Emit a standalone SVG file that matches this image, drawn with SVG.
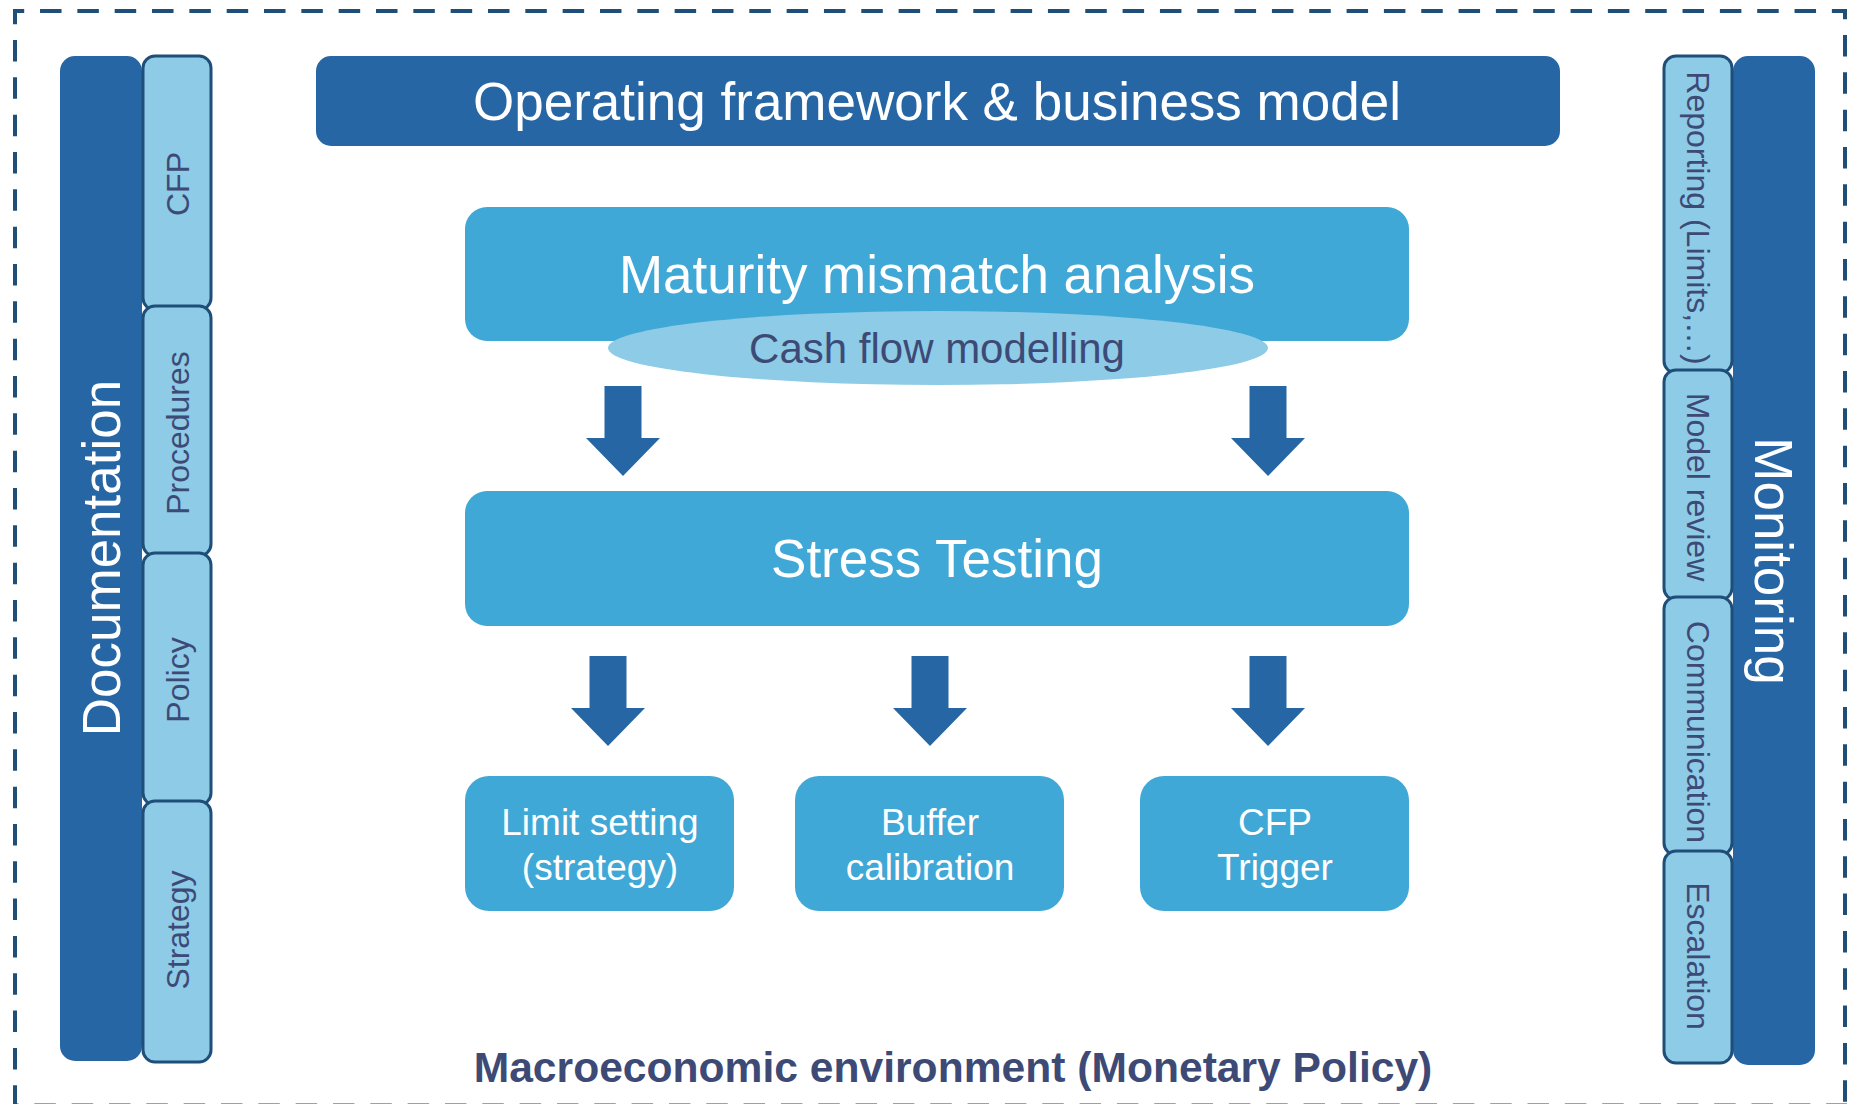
<svg xmlns="http://www.w3.org/2000/svg" width="1857" height="1104" viewBox="0 0 1857 1104">
  <defs>
    <style>
      .dark { fill: #2766A5; }
      .mid { fill: #3FA8D6; }
      .tab { fill: #8DCBE6; stroke: #1F4E79; stroke-width: 3; }
      .frame { fill: none; stroke: #1F4E79; stroke-width: 4; stroke-dasharray: 21.5 15.83; }
      .arrow { fill: #2766A5; }
      text { font-family: "Liberation Sans", Arial, sans-serif; text-anchor: middle; }
      .big { font-size: 53px; fill: #FFFFFF; }
      .tabtxt { font-size: 32px; fill: #3E4A76; }
      .boxtxt { font-size: 37px; fill: #FFFFFF; }
      .oval { font-size: 42px; fill: #3E4A76; }
      .macro { font-size: 42.6px; font-weight: bold; fill: #3E4A76; }
    </style>
    <!-- Downward block arrow: shaft 37 wide, head 74 wide -->
    <path id="down" d="M -18.5 0 H 18.5 V 52 H 37 L 0 90 L -37 52 H -18.5 Z"/>
  </defs>

  <rect width="1857" height="1104" fill="#FFFFFF"/>

  <!-- dashed outer frame, each side dashed from its own corner -->
  <g id="frame">
    <path class="frame" d="M 13 11 H 1847" stroke-dashoffset="10.3"/>
    <path class="frame" d="M 15 9 V 1108" stroke-dashoffset="6.3"/>
    <path class="frame" d="M 1845 9 V 1108" stroke-dashoffset="11.3"/>
    <path class="frame" d="M 13 1105.5 H 1847" stroke-dashoffset="16"/>
  </g>

  <!-- left column: Documentation -->
  <g id="documentation">
    <rect class="dark" x="60" y="56" width="82" height="1005" rx="15"/>
    <text class="big" transform="translate(101 558) rotate(-90)" y="19">Documentation</text>
  </g>
  <g id="doc-cfp">
    <rect class="tab" x="143" y="56" width="68" height="254" rx="12"/>
    <text class="tabtxt" transform="translate(177 184) rotate(-90)" y="11.5">CFP</text>
  </g>
  <g id="doc-procedures">
    <rect class="tab" x="143" y="306" width="68" height="250" rx="12"/>
    <text class="tabtxt" transform="translate(177 433) rotate(-90)" y="11.5">Procedures</text>
  </g>
  <g id="doc-policy">
    <rect class="tab" x="143" y="553" width="68" height="252" rx="12"/>
    <text class="tabtxt" transform="translate(177 680) rotate(-90)" y="11.5">Policy</text>
  </g>
  <g id="doc-strategy">
    <rect class="tab" x="143" y="801" width="68" height="261" rx="12"/>
    <text class="tabtxt" transform="translate(177 930) rotate(-90)" y="11.5">Strategy</text>
  </g>

  <!-- right column: Monitoring -->
  <g id="monitoring">
    <rect class="dark" x="1733" y="56" width="82" height="1009" rx="15"/>
    <text class="big" transform="translate(1774 561) rotate(90)" y="19">Monitoring</text>
  </g>
  <g id="mon-reporting">
    <rect class="tab" x="1664" y="56" width="68" height="317" rx="12"/>
    <text class="tabtxt" transform="translate(1698 218) rotate(90)" y="11.5">Reporting (Limits,…)</text>
  </g>
  <g id="mon-model-review">
    <rect class="tab" x="1664" y="370" width="68" height="230" rx="12"/>
    <text class="tabtxt" transform="translate(1698 487) rotate(90)" y="11.5">Model review</text>
  </g>
  <g id="mon-communication">
    <rect class="tab" x="1664" y="597" width="68" height="258" rx="12"/>
    <text class="tabtxt" transform="translate(1698 732) rotate(90)" y="11.5">Communication</text>
  </g>
  <g id="mon-escalation">
    <rect class="tab" x="1664" y="851" width="68" height="212" rx="12"/>
    <text class="tabtxt" transform="translate(1698 956) rotate(90)" y="11.5">Escalation</text>
  </g>

  <!-- centre -->
  <g id="operating-framework">
    <rect class="dark" x="316" y="56" width="1244" height="90" rx="15"/>
    <text class="big" x="937" y="120">Operating framework &amp; business model</text>
  </g>

  <g id="maturity-mismatch">
    <rect class="mid" x="465" y="207" width="944" height="134" rx="22"/>
    <text class="big" x="937" y="293">Maturity mismatch analysis</text>
  </g>

  <g id="cash-flow-modelling">
    <ellipse cx="938" cy="348" rx="330" ry="37" fill="#8DCBE6"/>
    <text class="oval" x="937" y="363">Cash flow modelling</text>
  </g>

  <g id="stress-testing">
    <rect class="mid" x="465" y="491" width="944" height="135" rx="22"/>
    <text class="big" x="937" y="577">Stress Testing</text>
  </g>

  <g id="limit-setting">
    <rect class="mid" x="465" y="776" width="269" height="135" rx="24"/>
    <text class="boxtxt" x="600" y="835">Limit setting</text>
    <text class="boxtxt" x="600" y="880">(strategy)</text>
  </g>
  <g id="buffer-calibration">
    <rect class="mid" x="795" y="776" width="269" height="135" rx="24"/>
    <text class="boxtxt" x="930" y="835">Buffer</text>
    <text class="boxtxt" x="930" y="880">calibration</text>
  </g>
  <g id="cfp-trigger">
    <rect class="mid" x="1140" y="776" width="269" height="135" rx="24"/>
    <text class="boxtxt" x="1275" y="835">CFP</text>
    <text class="boxtxt" x="1275" y="880">Trigger</text>
  </g>

  <!-- connectors -->
  <g id="connectors">
    <use href="#down" class="arrow" x="623" y="386"/>
    <use href="#down" class="arrow" x="1268" y="386"/>
    <use href="#down" class="arrow" x="608" y="656"/>
    <use href="#down" class="arrow" x="930" y="656"/>
    <use href="#down" class="arrow" x="1268" y="656"/>
  </g>

  <g id="macro-environment">
    <text class="macro" x="953" y="1082">Macroeconomic environment (Monetary Policy)</text>
  </g>
</svg>
